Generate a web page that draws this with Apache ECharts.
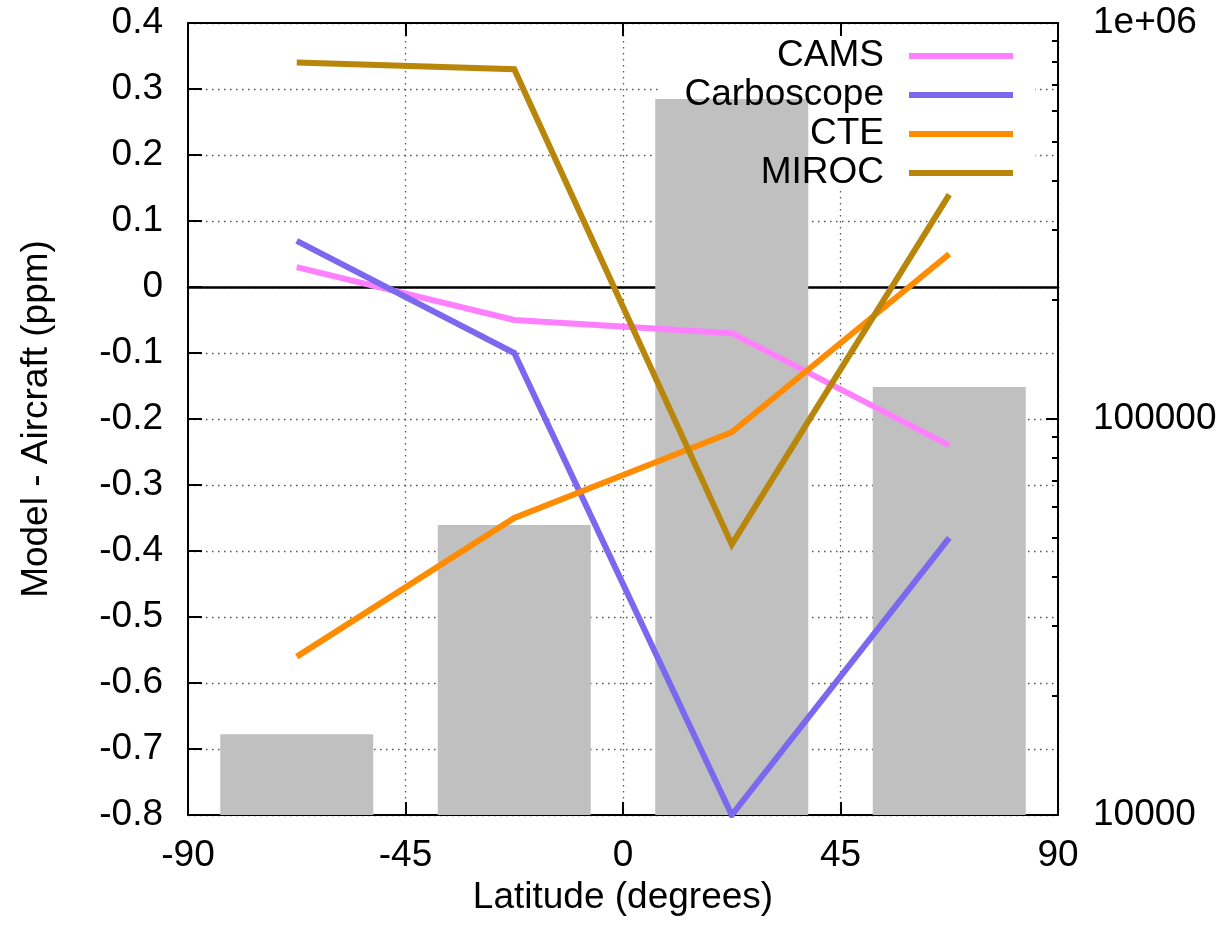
<!DOCTYPE html>
<html>
<head>
<meta charset="utf-8">
<script src="https://cdn.jsdelivr.net/npm/echarts@6/dist/echarts.min.js"></script>
<style>
  html, body { margin: 0; padding: 0; background: #ffffff; }
  #chart { width: 1222px; height: 929px; }
</style>
</head>
<body>
<div id="chart"></div>
<script>
// Latitude band centres (degrees)
const latitudes = [-67.5, -22.5, 22.5, 67.5];

// Model minus aircraft CO2 differences (ppm)
const cams = [0.03, -0.05, -0.07, -0.24];
const carboscope = [0.07, -0.10, -0.80, -0.38];
const cte = [-0.56, -0.35, -0.22, 0.05];
const miroc = [0.34, 0.33, -0.39, 0.14];

// Number of aircraft samples per band (right, log axis)
const sampleCounts = [16000, 54000, 643000, 120500];

// Axis ticks
const latTicks = [-90, -45, 0, 45, 90];
const countTicks = [10000, 100000, 1000000];
const countTickLabels = ['10000', '100000', '1e+06'];
const countMinorTicks = [
  20000, 30000, 40000, 50000, 60000, 70000, 80000, 90000,
  200000, 300000, 400000, 500000, 600000, 700000, 800000, 900000
];

const modelNames = ['CAMS', 'Carboscope', 'CTE', 'MIROC'];
const modelValues = [cams, carboscope, cte, miroc];
const modelColors = ['#ff80ff', '#7b68ee', '#ff8c00', '#b8860b'];

const FONT = "'Liberation Sans', Arial, Helvetica, sans-serif";
const FS = 37;
const gridLine = { show: true, lineStyle: { color: '#555', width: 1.3, type: [1.5, 4.5] } };
const frame = { show: true, onZero: false, lineStyle: { color: '#000', width: 2 } };

const pairs = (ys) => latitudes.map((x, i) => [x, ys[i]]);

const lineSeries = modelNames.map((name, k) => ({
  name: name,
  type: 'line',
  xAxisIndex: 0,
  yAxisIndex: 0,
  data: pairs(modelValues[k]),
  symbol: 'none',
  silent: true,
  z: 3,
  color: modelColors[k],
  itemStyle: { color: modelColors[k] },
  lineStyle: { color: modelColors[k], width: 6, join: 'miter', cap: 'butt' }
}));

const legends = modelNames.map((name, k) => ({
  data: [name],
  orient: 'vertical',
  right: 209,
  top: 37 + 39 * k,
  padding: 0,
  icon: 'rect',
  itemWidth: 104,
  itemHeight: 6,
  align: 'right',
  selectedMode: false,
  textStyle: { fontFamily: FONT, fontSize: FS, color: '#000', lineHeight: 38, padding: [0, 20, 0, 0] }
}));

const chart = echarts.init(document.getElementById('chart'), null, { renderer: 'canvas' });

chart.setOption({
  animation: false,
  backgroundColor: '#ffffff',
  textStyle: { fontFamily: FONT },
  grid: { left: 188, right: 164, top: 23, bottom: 114, containLabel: false },
  legend: legends,
  graphic: [{
    type: 'rect',
    left: 660,
    top: 36,
    shape: { width: 375, height: 153 },
    style: { fill: '#ffffff' },
    z: 1,
    silent: true
  }],
  xAxis: [
    {
      type: 'value', position: 'bottom', min: -90, max: 90, interval: 45,
      axisLine: frame,
      axisTick: { show: true, inside: true, length: 13, lineStyle: { color: '#000', width: 2 }, customValues: latTicks },
      axisLabel: { fontFamily: FONT, fontSize: FS, color: '#000', margin: 22, customValues: latTicks },
      splitLine: gridLine,
      name: 'Latitude (degrees)', nameLocation: 'middle', nameGap: 58,
      nameTextStyle: { fontFamily: FONT, fontSize: FS, color: '#000' }
    },
    {
      type: 'value', position: 'top', min: -90, max: 90, interval: 45,
      axisLine: frame,
      axisTick: { show: true, inside: true, length: 13, lineStyle: { color: '#000', width: 2 } },
      axisLabel: { show: false },
      splitLine: { show: false }
    },
    {
      // zero reference line
      type: 'value', position: 'bottom', min: -90, max: 90,
      axisLine: { show: true, onZero: true, onZeroAxisIndex: 0, lineStyle: { color: '#000', width: 2.5 } },
      axisTick: { show: false },
      axisLabel: { show: false },
      splitLine: { show: false }
    }
  ],
  yAxis: [
    {
      type: 'value', position: 'left', min: -0.8, max: 0.4, interval: 0.1,
      axisLine: frame,
      axisTick: { show: true, inside: true, length: 14, lineStyle: { color: '#000', width: 2 } },
      axisLabel: { fontFamily: FONT, fontSize: FS, color: '#000', margin: 25 },
      splitLine: gridLine,
      name: 'Model - Aircraft (ppm)', nameLocation: 'middle', nameGap: 133, nameRotate: 90,
      nameTextStyle: { fontFamily: FONT, fontSize: FS, color: '#000' }
    },
    {
      type: 'log', logBase: 10, position: 'right', min: 10000, max: 1000000,
      axisLine: frame,
      axisTick: { show: true, inside: true, length: 12, lineStyle: { color: '#000', width: 2 }, customValues: countTicks },
      axisLabel: {
        fontFamily: FONT, fontSize: FS, color: '#000', margin: 35, customValues: countTicks,
        formatter: (v) => countTickLabels[countTicks.findIndex(t => Math.abs(t - v) / t < 1e-6)] || ''
      },
      splitLine: { show: false }
    },
    {
      type: 'log', logBase: 10, position: 'right', min: 10000, max: 1000000,
      axisLine: { show: false, onZero: false },
      axisTick: { show: true, inside: true, length: 6, lineStyle: { color: '#000', width: 2 }, customValues: countMinorTicks },
      axisLabel: { show: false },
      splitLine: { show: false }
    }
  ],
  series: [
    {
      name: 'samples',
      type: 'bar',
      xAxisIndex: 0,
      yAxisIndex: 1,
      data: pairs(sampleCounts),
      barWidth: 153,
      clip: true,
      silent: true,
      z: 2,
      itemStyle: { color: '#c0c0c0' }
    }
  ].concat(lineSeries)
});
</script>
</body>
</html>
